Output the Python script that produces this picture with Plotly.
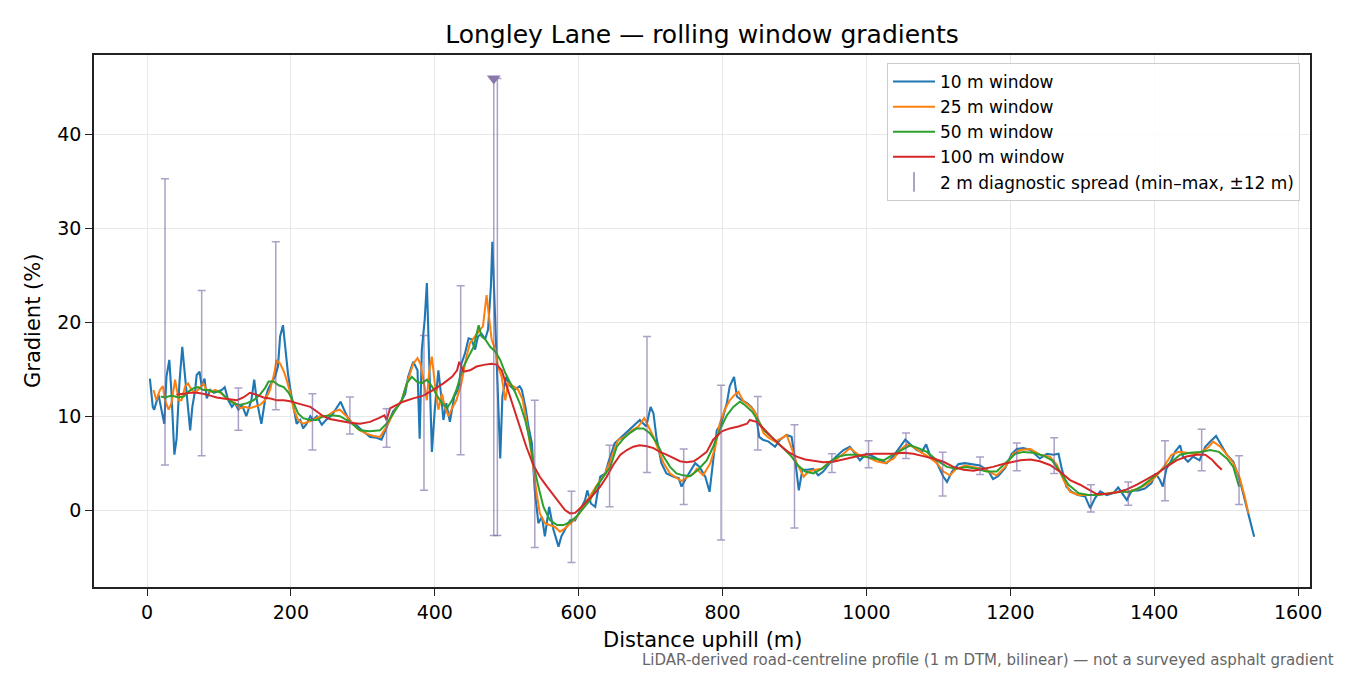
import plotly.graph_objects as go

# ---------------- data ----------------
w10_x = [4,8,10,13,16,20,24,27,31,34,38,41,45,49,52,55,60,63,67,69,73,76,80,83,88,93,97,104,108,113,118,122,127,132,138,141,145,149,152,156,159,164,168,173,178,182,185,189,192,196,200,205,208,213,217,222,227,231,236,243,250,257,264,269,275,282,292,296,310,319,326,333,342,352,359,363,370,376,379,382,386,389,392,396,400,405,409,412,416,421,427,433,437,442,447,451,456,460,465,470,474,478,480,484,488,491,494,499,505,511,518,521,526,530,535,539,544,549,553,559,565,572,576,581,588,595,602,609,612,617,623,630,637,641,650,660,669,676,685,694,700,704,708,715,722,732,739,743,750,762,768,776,782,787,792,798,806,810,816,820,827,834,840,846,851,856,864,873,880,889,896,901,906,911,918,926,933,940,949,958,968,977,984,991,1000,1010,1019,1028,1037,1047,1054,1061,1070,1077,1083,1088,1098,1107,1112,1119,1128,1137,1146,1158,1170,1176,1183,1193,1202,1209,1218,1228,1241,1251,1260,1267,1271,1278,1285,1294,1304,1311,1318,1325,1334,1343,1350,1357,1362,1369,1378,1387,1396,1402,1408,1412,1417,1424,1429,1436,1440,1447,1454,1463,1471,1478,1486,1492,1501,1510,1519,1526,1533,1539]
w10_y = [14.0,11.0,10.7,11.5,12.3,10.7,9.2,14.2,16.0,12.5,5.9,7.5,13.5,17.4,15.3,12.5,8.5,11.0,12.8,14.4,14.75,13.2,14.0,11.9,12.8,12.5,12.6,12.8,13.1,11.7,11.0,11.4,10.7,11.2,10.0,10.7,11.7,13.9,12.0,10.3,9.2,11.7,12.8,13.6,14.2,15.3,18.5,19.7,17.4,14.5,12.5,10.3,9.2,9.6,8.7,9.2,10.0,9.6,10.0,9.1,9.7,10.1,10.9,11.55,10.5,9.4,9.0,8.7,7.8,7.7,7.5,8.9,10.5,11.4,12.4,14.2,15.8,14.9,7.6,17.1,20.3,24.2,17.4,6.2,10.7,14.9,12.1,9.6,11.4,9.4,12.1,12.9,15.6,16.7,18.3,18.2,17.1,18.5,18.8,18.2,19.2,23.8,28.6,19.9,10.0,5.5,12.1,14.2,13.2,12.8,13.2,12.8,11.0,9.0,7.1,2.1,-1.4,-0.7,-2.8,0.35,-2.1,-3.9,-2.8,-2.1,-1.1,-1.1,0.0,1.07,2.1,0.7,0.35,3.55,3.9,5.0,7.1,7.8,8.5,8.9,9.6,8.9,11.0,10.3,7.8,5.0,3.9,3.55,3.4,2.5,3.5,5.0,4.6,3.55,1.95,5.3,8.5,9.2,11.4,13.2,14.2,12.1,11.7,11.4,11.0,10.3,7.8,7.5,7.3,6.75,7.5,8.0,7.8,5.3,2.1,4.3,4.3,4.4,3.7,4.1,5.0,5.7,6.4,6.75,6.0,5.3,6.0,5.7,5.3,5.0,5.7,6.75,7.5,7.0,6.4,6.2,7.0,5.9,5.0,3.55,3.0,4.1,4.9,5.0,4.9,4.75,4.1,3.3,3.6,4.5,6.0,6.5,6.6,6.4,5.5,6.0,5.9,6.0,4.6,2.5,1.95,1.6,1.45,0.2,1.3,2.0,1.6,1.8,2.4,1.6,1.07,2.1,2.1,2.3,2.85,3.9,3.2,2.5,4.4,5.3,6.2,6.9,5.7,5.15,5.7,5.3,6.75,7.3,7.9,7.1,5.9,5.15,3.2,1.07,-1.07,-2.85]

w25_x = [9,13,18,22,25,30,34,39,44,48,53,57,62,67,73,78,83,88,95,102,108,115,122,129,136,143,150,157,164,171,177,180,185,190,194,199,204,210,217,224,231,240,250,259,268,280,292,303,315,324,333,345,354,363,370,376,380,385,389,392,396,400,405,410,414,419,423,430,437,444,449,456,463,467,472,476,479,484,488,493,498,502,509,516,522,528,535,541,546,553,560,567,574,581,591,600,609,618,627,637,646,655,664,674,683,691,697,704,711,718,727,736,743,752,760,764,773,783,790,796,803,810,817,822,829,836,843,850,857,864,873,883,889,896,903,913,919,929,938,947,956,968,977,989,1000,1014,1026,1038,1047,1056,1065,1075,1086,1098,1107,1116,1125,1137,1149,1161,1170,1181,1193,1204,1214,1228,1241,1255,1265,1274,1283,1295,1308,1322,1336,1350,1364,1378,1392,1404,1415,1424,1434,1445,1457,1466,1476,1482,1492,1501,1510,1519,1526,1531]
w25_y = [12.8,11.7,12.8,13.2,11.7,10.7,11.4,13.9,11.7,11.7,13.2,13.5,12.8,12.5,13.0,13.5,12.8,12.6,12.8,12.5,12.1,11.7,11.4,10.85,11.0,10.85,11.0,11.2,11.7,12.8,14.6,16.0,15.6,14.8,13.9,12.5,10.7,9.6,9.2,9.4,9.6,10.0,10.0,10.5,10.7,9.8,8.7,8.2,7.9,7.8,8.9,10.7,11.7,13.9,15.6,16.2,15.6,13.5,11.7,14.6,16.35,13.5,10.7,12.4,11.0,10.0,10.7,11.7,13.5,16.35,17.8,18.5,19.2,19.6,22.9,19.9,18.2,17.1,15.3,14.2,11.7,13.5,13.2,12.8,11.8,9.2,5.7,2.1,-0.35,-1.4,-1.6,-1.8,-2.3,-1.95,-1.25,-0.5,0.7,1.8,2.85,3.9,5.7,7.5,7.8,8.5,8.9,9.8,8.9,7.8,6.4,5.0,3.9,3.4,3.1,3.55,3.9,4.4,3.7,5.0,6.75,9.2,10.7,11.7,12.3,12.6,11.6,11.2,10.7,9.6,8.2,7.7,7.3,7.7,8.0,6.6,5.0,3.55,4.1,4.3,4.4,5.0,5.3,6.0,6.6,5.9,5.7,5.2,5.0,5.5,6.4,7.0,6.75,6.2,5.7,5.0,4.1,3.7,4.4,4.75,4.6,4.4,4.1,3.7,4.6,6.0,6.4,6.5,5.9,5.7,4.8,3.2,1.95,1.6,1.6,1.6,1.8,1.95,1.95,2.3,2.85,3.7,4.8,5.9,6.2,6.1,6.0,6.2,6.75,7.3,6.75,5.9,5.0,3.4,1.4,-0.35]

w50_x = [19,25,34,44,51,57,65,71,78,85,92,102,111,120,129,139,148,157,164,169,176,183,190,197,204,210,217,227,236,245,257,268,282,296,310,324,333,345,354,361,368,375,382,389,396,403,410,417,424,430,435,440,447,454,461,465,470,477,484,491,498,505,512,519,526,532,537,544,551,560,570,579,588,597,607,616,625,635,644,653,662,671,681,690,699,709,718,727,736,745,755,766,778,787,796,806,815,824,831,841,850,859,868,878,887,896,905,915,926,938,950,961,973,984,996,1010,1024,1037,1049,1061,1072,1084,1098,1112,1125,1139,1153,1167,1181,1195,1207,1218,1232,1246,1258,1269,1281,1295,1309,1322,1340,1354,1368,1382,1394,1408,1422,1436,1450,1464,1478,1490,1501,1510,1518]
w50_y = [12.1,12.0,12.2,12.0,12.1,12.6,13.0,13.1,12.8,12.8,12.6,12.6,11.9,11.4,11.2,11.4,11.7,12.3,13.0,13.7,13.7,13.3,13.1,12.5,11.4,10.3,9.8,9.6,9.6,10.0,10.1,10.0,9.4,8.5,8.4,8.5,9.2,10.7,11.7,13.5,14.2,13.7,13.5,13.9,13.2,12.2,11.4,10.85,11.7,12.8,14.2,15.3,16.35,17.4,19.7,18.5,18.2,17.4,16.9,16.0,14.6,13.5,12.5,11.2,9.5,7.5,5.0,2.5,0.35,-1.07,-1.6,-1.6,-1.25,-0.7,0.2,1.07,2.5,3.55,4.6,6.75,7.6,8.2,8.7,8.7,8.2,7.1,5.7,4.6,3.9,3.7,3.6,4.3,5.3,6.75,8.5,10.1,11.0,11.55,11.2,10.5,9.4,8.4,7.8,7.1,6.4,5.7,4.75,4.1,3.9,4.4,5.2,5.7,5.9,5.9,5.7,5.5,5.3,5.9,6.4,6.9,6.6,6.2,5.3,4.6,4.4,4.6,4.4,4.1,4.1,5.1,6.0,6.2,6.1,5.8,5.3,4.1,2.7,1.8,1.6,1.6,1.8,1.95,1.95,2.5,3.2,4.1,5.0,5.9,6.1,6.2,6.4,6.2,5.5,4.6,2.5]

w100_x = [41,50,60,69,78,88,97,106,115,125,134,143,152,162,171,180,190,199,208,217,227,236,245,254,268,282,296,310,322,330,333,338,347,356,370,384,398,412,424,431,434,440,449,458,470,479,486,493,500,509,518,527,537,546,556,565,574,581,588,595,602,611,620,630,639,648,658,667,676,685,695,704,713,722,732,741,750,760,766,778,787,799,810,822,834,838,847,857,868,880,891,903,915,926,940,954,968,982,996,1010,1024,1037,1052,1065,1079,1093,1107,1121,1135,1149,1163,1176,1190,1204,1214,1228,1241,1255,1269,1283,1297,1311,1320,1334,1348,1362,1376,1390,1404,1417,1431,1445,1459,1471,1480,1487,1494]
w100_y = [12.3,12.4,12.5,12.5,12.4,12.2,12.0,11.9,11.8,11.7,12.0,12.5,12.3,12.0,11.9,11.7,11.7,11.6,11.4,11.2,11.0,10.5,10.0,9.7,9.5,9.3,9.2,9.4,9.8,10.1,9.6,10.85,11.2,11.55,11.9,12.2,12.8,13.5,14.2,14.9,15.8,14.75,14.9,15.3,15.5,15.6,15.5,14.9,13.2,11.0,8.9,6.8,4.8,3.55,2.5,1.6,0.7,0.0,-0.35,-0.3,0.2,0.9,1.6,2.5,3.55,4.8,5.9,6.4,6.75,6.9,6.8,6.6,6.2,5.9,5.5,5.2,5.1,5.2,5.5,6.2,7.5,8.4,8.7,8.9,9.2,9.6,9.4,8.7,7.8,6.9,6.2,5.7,5.4,5.3,5.1,5.15,5.4,5.7,5.9,6.0,6.0,6.0,6.1,6.0,5.75,5.5,5.15,4.6,4.3,4.2,4.4,4.6,4.9,5.1,5.3,5.4,5.2,4.8,4.1,3.2,2.7,2.1,1.7,1.7,1.9,2.2,2.7,3.3,3.9,4.6,5.3,5.7,5.9,5.9,5.4,4.8,4.3]

# 2 m diagnostic spread: positions, min and max (%)
spread_x = [25,76,127,179,230,282,333,385,436,482,487,539,590,643,695,746,798,849,900,952,1003,1055,1106,1158,1209,1261,1312,1364,1415,1466,1518]
spread_lo = [4.8,5.8,8.5,10.7,6.4,8.1,6.7,2.1,5.9,-2.7,-2.7,-4.0,-5.6,0.36,4.0,0.6,-3.2,6.4,-1.9,4.0,4.5,5.5,1.5,3.8,4.2,3.9,-0.2,0.5,1.0,4.2,0.6]
spread_hi = [35.3,23.4,13.0,28.6,12.4,12.05,10.8,18.6,23.9,46.0,46.0,11.7,2.0,6.9,18.5,6.5,13.3,12.1,9.1,6.0,7.4,8.2,6.15,5.65,7.15,7.7,2.7,3.0,7.4,8.6,5.8]

# off-scale marker (spread max clipped at axis top)
clip_x = [482]
clip_y = [46.0]

series_names = ["10 m window", "25 m window", "50 m window", "100 m window"]
series_colors = ["#1f77b4", "#ff7f0e", "#2ca02c", "#d62728"]
spread_name = "2 m diagnostic spread (min\u2013max, \u00b112 m)"

x_ticks = [0, 200, 400, 600, 800, 1000, 1200, 1400, 1600]
y_ticks = [0, 10, 20, 30, 40]

FONT = "DejaVu Sans"
SPREAD_COLOR = "rgba(118,96,160,0.6)"
# page offset (browser body margin) compensated in margins
L, R, T, B = 86, 48, 47, 96
PW = 1350 - L - R
PH = 675 - T - B

# ---------------- figure ----------------
fig = go.Figure()

series = [(w10_x, w10_y), (w25_x, w25_y), (w50_x, w50_y), (w100_x, w100_y)]
widths = [2.1, 2.0, 2.0, 2.0]
for i, ((xs, ys), name, col) in enumerate(zip(series, series_names, series_colors)):
    fig.add_trace(go.Scatter(
        x=xs, y=ys, mode="lines", name=name,
        line=dict(color=col, width=widths[i]),
        legendgroup=f"g{i}", showlegend=True,
    ))

spread_mid = [(lo + hi) / 2 for lo, hi in zip(spread_lo, spread_hi)]
fig.add_trace(go.Scatter(
    x=spread_x, y=spread_mid, mode="markers",
    marker=dict(size=1, color="rgba(0,0,0,0)"),
    error_y=dict(type="data", symmetric=False,
                 array=[hi - m for hi, m in zip(spread_hi, spread_mid)],
                 arrayminus=[m - lo for lo, m in zip(spread_lo, spread_mid)],
                 color=SPREAD_COLOR, thickness=1.5, width=4),
    showlegend=False, hoverinfo="skip",
))

fig.add_trace(go.Scatter(
    x=clip_x, y=clip_y, mode="markers",
    marker=dict(symbol="triangle-down", size=12, color="#8978aa"),
    showlegend=False,
))

# legend entry for the spread
fig.add_trace(go.Scatter(
    x=[None], y=[None], mode="markers", name=spread_name,
    marker=dict(symbol="line-ns-open", size=14, color=SPREAD_COLOR,
                line=dict(color=SPREAD_COLOR, width=2)),
    legendgroup="g4",
))

axis_common = dict(
    showline=True, linecolor="#222222", linewidth=1.6, mirror=True,
    ticks="outside", ticklen=7, tickwidth=1.4, tickcolor="#222222",
    showgrid=True, gridcolor="#e8e8e8", gridwidth=1,
    zeroline=False, ticklabelstandoff=0,
    tickfont=dict(family=FONT, size=19, color="#000000"),
)

fig.update_layout(
    width=1350, height=675,
    margin=dict(l=L, r=R, t=T, b=B),
    paper_bgcolor="white", plot_bgcolor="white",
    font=dict(family=FONT, color="#000000"),
    title=dict(text="Longley Lane \u2014 rolling window gradients",
               x=(L + PW / 2) / 1350, xanchor="center",
               y=1 - 26 / 675, yanchor="middle", yref="container",
               font=dict(family=FONT, size=25, color="#000000")),
    xaxis=dict(range=[-73.7, 1616.6], tickvals=x_ticks, **axis_common),
    yaxis=dict(range=[-8.2, 48.5], tickvals=y_ticks, **axis_common),
    legend=dict(x=0.9918, xanchor="right", y=0.985, yanchor="top",
                bgcolor="rgba(255,255,255,0.85)", bordercolor="#cccccc", borderwidth=1,
                font=dict(family=FONT, size=17, color="#000000"),
                traceorder="grouped", tracegroupgap=0, itemwidth=42),
    showlegend=True,
)

fig.add_annotation(text="Distance uphill (m)", xref="paper", yref="paper",
                   x=0.5, y=-53 / PH, xanchor="center", yanchor="middle",
                   showarrow=False, font=dict(family=FONT, size=21, color="#000000"))
fig.add_annotation(text="Gradient (%)", xref="paper", yref="paper",
                   x=-61 / PW, y=0.5, xanchor="center", yanchor="middle",
                   textangle=-90, showarrow=False,
                   font=dict(family=FONT, size=21, color="#000000"))
fig.add_annotation(text="LiDAR-derived road-centreline profile (1 m DTM, bilinear) \u2014 not a surveyed asphalt gradient",
                   xref="paper", yref="paper",
                   x=1 + 26 / PW, y=-73 / PH,
                   xanchor="right", yanchor="middle", showarrow=False,
                   font=dict(family=FONT, size=15, color="#666666"))

fig.write_html("out.html")
